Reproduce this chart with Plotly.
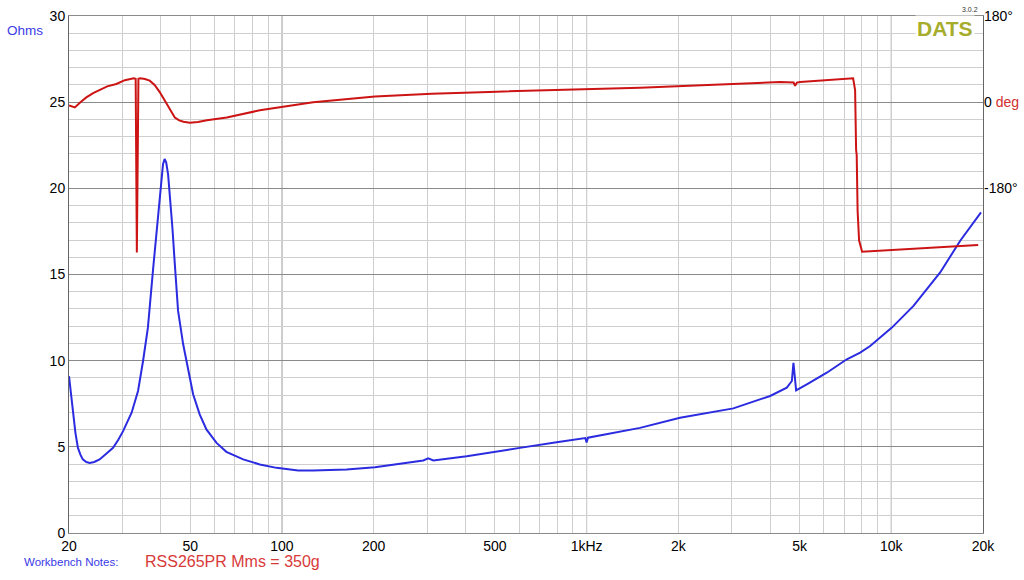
import plotly.graph_objects as go

# impedance magnitude (ohms)
imp_freq = [20, 20.1, 20.6, 21.0, 21.4, 21.8, 22.2, 22.8, 23.4, 24.2, 25.2, 26.5, 27.9,
            29.0, 30.1, 32.1, 33.7, 35.0, 36.3, 37.8, 39.2, 40.2, 40.7, 41.2, 41.7, 42.3,
            43.0, 43.7, 44.5, 45.6, 47.4, 49.2, 51.1, 53.7, 56.5, 61.0, 65.7, 74.6, 84.6,
            96.0, 113, 126.6, 163, 202, 238, 291, 302, 314, 404, 507, 604, 797, 990, 1000,
            1010, 1497, 2026, 3031, 4002, 4540, 4716, 4774, 4871, 5282, 6142, 7146, 7904,
            8524, 10046, 11826, 14470, 16838, 19700]
imp_ohms = [9.1, 8.8, 7.1, 5.8, 4.94, 4.55, 4.27, 4.12, 4.07, 4.12, 4.27, 4.6, 4.94,
            5.4, 5.91, 6.98, 8.24, 9.98, 11.9, 15.4, 18.5, 20.8, 21.4, 21.7, 21.5, 20.8,
            19.3, 17.7, 15.6, 12.9, 10.95, 9.4, 8.05, 6.88, 6.01, 5.23, 4.71, 4.27, 3.98,
            3.78, 3.63, 3.63, 3.69, 3.82, 3.98, 4.21, 4.33, 4.21, 4.46, 4.71, 4.94, 5.27, 5.51, 5.25,
            5.53, 6.10, 6.69, 7.23, 7.95, 8.43, 8.82, 9.88, 8.28, 8.63, 9.30, 10.08, 10.47,
            10.85, 11.92, 13.18, 15.12, 16.96, 18.6]

# phase (degrees)
ph_freq = [20, 20.9, 21.8, 22.8, 24.0, 25.2, 26.7, 28.6, 30.5, 32.6, 33.1, 33.4, 33.8,
           34.3, 35.5, 36.8, 38.2, 39.7, 40.8, 41.9, 43.2, 44.5, 46.0, 47.5, 49.8, 53.0,
           56.7, 65.9, 84.6, 98.4, 114, 126.6, 202, 295, 302, 310, 507,
           1000, 1497, 2742, 4316, 4780, 4834, 4900, 5020, 7494, 7608, 7666, 7700, 7724,
           7753, 7840, 8022, 19286]
ph_deg = [-7, -11, 0, 10, 19, 26, 33, 38, 46, 50, 49, -314, 49,
          50, 48.5, 45, 36, 21, 9, -3, -19, -32, -38, -41, -43, -41.5,
          -38, -32, -17, -10.5, -3.3, 0, 12, 17, 18.5, 17.5, 22,
          26.6, 30, 37, 42, 41, 34, 41, 42, 50, 25, -100, -110, -164,
          -227, -289, -312.5, -298.5]

grid_freqs = [m * 10 ** e for e in (1, 2, 3, 4) for m in range(1, 10)]
grid_freqs = [f for f in grid_freqs if 20 <= f <= 20000]
labels = {20: "20", 50: "50", 100: "100", 200: "200", 500: "500", 1000: "1kHz",
          2000: "2k", 5000: "5k", 10000: "10k", 20000: "20k"}
grid_text = [labels.get(f, "") for f in grid_freqs]

font = "Liberation Sans, Arial, Helvetica, sans-serif"
blue = "#2b2be0"
red = "#cc1414"

fig = go.Figure()
fig.add_trace(go.Scatter(x=imp_freq, y=imp_ohms, mode="lines",
                         line=dict(color=blue, width=2), yaxis="y"))
fig.add_trace(go.Scatter(x=ph_freq, y=ph_deg, mode="lines",
                         line=dict(color=red, width=2), yaxis="y2"))

# decade lines are darker
for f in (100, 1000, 10000):
    fig.add_shape(type="line", xref="x", yref="paper", x0=f, x1=f, y0=0, y1=1,
                  line=dict(color="#8a8a8a", width=1), layer="below")

fig.update_layout(
    width=1024, height=580,
    margin=dict(l=69, r=41, t=16, b=47),
    paper_bgcolor="white", plot_bgcolor="white",
    showlegend=False,
    font=dict(family=font, size=14, color="black"),
    xaxis=dict(type="log", range=[1.30103, 4.30103],
               tickvals=grid_freqs, ticktext=grid_text,
               showgrid=True, gridcolor="#cfcfcf", gridwidth=1,
               ticks="", showline=True, linecolor="#8a8a8a", mirror=True,
               zeroline=False, automargin=False, tickfont=dict(size=14)),
    yaxis=dict(range=[0, 30], dtick=5, showgrid=True, gridcolor="#8a8a8a",
               minor=dict(dtick=1, showgrid=True, gridcolor="#cfcfcf"),
               ticks="", showline=True, linecolor="#666666", mirror=True,
               zeroline=False, automargin=False, tickfont=dict(size=14)),
    yaxis2=dict(range=[-900, 180], overlaying="y", side="right",
                tickvals=[180, 0, -180],
                ticktext=["180°", "0 <span style='color:#d03030'>deg</span>", "-180°"],
                showgrid=False, zeroline=False, ticks="", showline=False,
                automargin=False, tickfont=dict(size=14)),
)

fig.add_annotation(text="Ohms", xref="paper", yref="paper", x=-0.070, y=0.971,
                   xanchor="left", yanchor="middle", showarrow=False,
                   font=dict(size=13.5, color="#3a3ae6"))
fig.add_annotation(text="<b>DATS</b>", xref="paper", yref="paper", x=0.991, y=0.976,
                   xanchor="right", yanchor="middle", showarrow=False,
                   bgcolor="white", borderpad=1,
                   font=dict(size=21, color="#a6ad2c"))
fig.add_annotation(text="3.0.2", xref="paper", yref="paper", x=0.986, y=1.013,
                   xanchor="center", yanchor="middle", showarrow=False,
                   font=dict(size=7, color="#333333"))
fig.add_annotation(text="Workbench Notes:", xref="paper", yref="paper", x=-0.0514, y=-0.056,
                   xanchor="left", yanchor="middle", showarrow=False,
                   font=dict(size=11.5, color="#3a3ae6"))
fig.add_annotation(text="RSS265PR Mms = 350g", xref="paper", yref="paper", x=0.081, y=-0.056,
                   xanchor="left", yanchor="middle", showarrow=False,
                   font=dict(size=16, color="#d83a3a"))

# page margin would push the fixed-size figure off the window
fig.write_html("out.html", config={"displayModeBar": False},
               post_script="document.body.style.margin='0';")
